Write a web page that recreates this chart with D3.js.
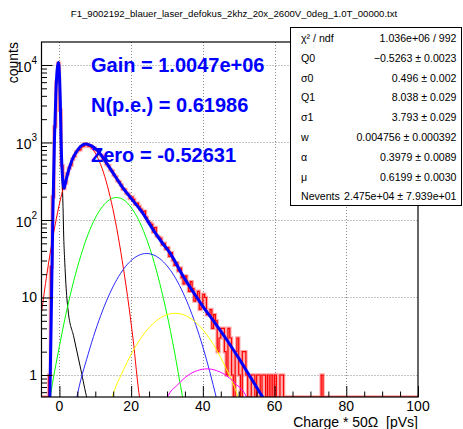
<!DOCTYPE html>
<html>
<head>
    <meta charset="utf-8">
    <title>Charge spectrum fit</title>
    <script type="text/javascript" src="https://cdn.jsdelivr.net/npm/d3@7"></script>
    <style>
        body { margin: 0; background: #fff; }
        text { font-family: "Liberation Sans", Arial, Helvetica, sans-serif; white-space: pre; }
    </style>
</head>

<body>

<script type="text/javascript">
    var width = 463,
        height = 429,
        frame = {left: 41.5, right: 418, top: 42, bottom: 397};

    var titleText = "F1_9002192_blauer_laser_defokus_2khz_20x_2600V_0deg_1.0T_00000.txt";

    // histogram: first bin edge, bin width, counts per bin
    var binStart = -5,
        binWidth = 0.5;
    var counts = [
        0, 0, 0, 0, 1, 25, 200, 1600, 6000, 10500,
        2600, 500, 255, 300, 395, 470, 510, 610, 665, 760,
        790, 805, 880, 900, 965, 940, 890, 900, 850, 845,
        800, 780, 700, 680, 605, 575, 520, 500, 445, 430,
        380, 362, 320, 310, 282, 250, 248, 222, 215, 190,
        198, 184, 160, 165, 150, 138, 128, 130, 108, 96,
        92, 88, 70, 80, 62, 60, 58, 48, 50, 42,
        44, 34, 38, 30, 26, 28, 22, 24, 18, 15,
        19, 15, 12, 16, 13, 9, 10, 12, 7, 8,
        11, 10, 6, 6, 7, 4, 6, 5, 2, 3,
        4, 4, 2, 1, 4, 3, 1, 0, 2, 3,
        1, 0, 2, 2, 1, 0, 0, 1, 1, 0,
        1, 1, 0, 1, 1, 0, 1, 0, 1, 0,
        1, 0, 0, 1, 1, 0, 0, 0, 0, 0,
        0, 0, 0, 0, 0, 0, 0, 0, 0, 0,
        0, 0, 0, 0, 0, 0, 1
    ];

    // fit curves: [charge, counts]
    var totalFit = [[-2.7, 0.4], [-2.2, 10], [-1.8, 139], [-1.4, 1040], [-1.0, 4180], [-0.65, 8500],
        [-0.3, 10800], [0, 7500], [0.25, 3300], [0.47, 1000], [0.7, 480], [0.95, 320], [1.23, 256],
        [1.6, 290], [2.0, 350], [2.6, 442], [3.5, 590], [4.5, 724], [5.8, 880], [7.3, 955],
        [8.8, 910], [10.5, 800], [12, 650], [13.8, 488], [15.5, 370], [17.2, 280], [20, 190],
        [23.1, 125], [26.2, 74], [28.5, 52], [30.9, 37], [34.6, 18.5], [40, 7.7], [43.5, 4.6],
        [46.7, 2.83], [50, 1.65], [53.2, 0.95], [56.9, 0.5], [58, 0.42]];
    var pedestalFit = [[-2.7, 0.4], [-2.2, 10], [-1.8, 139], [-1.4, 1040], [-1.0, 4180], [-0.65, 8500],
        [-0.3, 10800], [0, 7500], [0.25, 3500], [0.47, 1000], [0.75, 350], [1.0, 150], [1.2, 60],
        [1.5, 28], [1.8, 15], [2.4, 6.9], [4, 3.1], [6, 1.16], [7.7, 0.5], [8.2, 0.42]];
    var pe1Fit = [[-5, 6.4], [-3.5, 20], [-2, 54], [-0.5, 126], [1, 252], [2.5, 435], [4, 649],
        [5.5, 835], [7.3, 930], [8.8, 863], [10, 731], [11.5, 520], [13, 319], [14.5, 169],
        [16, 77], [17.5, 30], [19, 10.3], [20.5, 3.0], [22.4, 0.5], [22.8, 0.4]];
    var pe2Fit = [[-2.9, 0.4], [-2.6, 0.5], [0, 2.35], [2, 6.7], [4, 16.4], [6, 35], [8, 65.6],
        [10, 106], [12, 149], [14, 183], [15.9, 195], [18, 181], [20, 145], [22, 102], [24, 62],
        [26, 33], [28, 15.1], [30, 6.05], [32, 2.1], [34.4, 0.5], [34.8, 0.4]];
    var pe3Fit = [[4.4, 0.4], [4.8, 0.5], [8, 1.85], [12, 6.7], [16, 17], [20, 30], [24.3, 37],
        [28, 31.7], [32, 19], [36, 7.9], [40, 2.3], [43.8, 0.5], [44.3, 0.4]];
    var pe4Fit = [[14, 0.4], [14.6, 0.5], [18, 1.2], [22, 2.67], [26, 4.55], [29, 5.74], [32.25, 6.25],
        [35.5, 5.74], [38, 4.78], [42, 2.89], [46, 1.35], [49.9, 0.5], [50.5, 0.4]];
    var pe5Fit = [[29.3, 0.4], [30, 0.5], [33, 0.75], [36, 1.0], [38.5, 1.14], [41.15, 1.2],
        [43.8, 1.14], [46, 1.02], [49, 0.78], [52.3, 0.5], [53, 0.4]];

    var xTicks = [0, 20, 40, 60, 80, 100];
    var yTicks = [1, 10, 100, 1000, 10000];
    var yTickLabels = [["1", ""], ["10", ""], ["10", "2"], ["10", "3"], ["10", "4"]];

    var statNames = ["\u03c7\u00b2 / ndf", "Q0", "\u03c30", "Q1", "\u03c31", "w", "\u03b1", "\u03bc", "Nevents"];
    var statValues = ["1.036e+06 / 992", "\u22120.5263 \u00b1 0.0023", "0.496 \u00b1 0.002",
        "8.038 \u00b1 0.029", "3.793 \u00b1 0.029", "0.004756 \u00b1 0.000392",
        "0.3979 \u00b1 0.0089", "0.6199 \u00b1 0.0030", "2.475e+04 \u00b1 7.939e+01"];

    var fitLabels = ["Gain = 1.0047e+06", "N(p.e.) = 0.61986", "Zero = -0.52631"];

    var svg = d3.select("body").append("svg")
            .attr("width", width)
            .attr("height", height);

    var x = d3.scaleLinear().domain([-5, 100]).range([frame.left, frame.right]);
    var y = d3.scaleLog().domain([0.52, 19800]).range([frame.bottom, frame.top]);

    function yv(c) {
        return c > 0 ? y(c) : frame.bottom;
    }

    svg.append("defs").append("clipPath").attr("id", "plot-clip")
        .append("rect")
        .attr("x", frame.left).attr("y", frame.top)
        .attr("width", frame.right - frame.left)
        .attr("height", frame.bottom - frame.top);

    function renderGrid() {
        var g = svg.append("g").attr("class", "grid")
            .attr("stroke", "#8a8a8a").attr("stroke-dasharray", "1,2").attr("fill", "none");
        g.selectAll("line.gx").data(xTicks.slice(0, -1)).enter().append("line")
            .attr("x1", function(d) { return Math.round(x(d)) + 0.5; })
            .attr("x2", function(d) { return Math.round(x(d)) + 0.5; })
            .attr("y1", frame.top).attr("y2", frame.bottom);
        g.selectAll("line.gy").data(yTicks).enter().append("line")
            .attr("y1", function(d) { return Math.round(y(d)) + 0.5; })
            .attr("y2", function(d) { return Math.round(y(d)) + 0.5; })
            .attr("x1", frame.left).attr("x2", frame.right);
    }

    function renderHistogram() {
        var pts = counts.map(function(c, i) { return [binStart + i * binWidth, c]; });
        pts.push([binStart + counts.length * binWidth, 0]);
        pts.push([100, 0]);
        var line = d3.line()
            .x(function(d) { return x(d[0]); })
            .y(function(d) { return yv(d[1]); })
            .curve(d3.curveStepAfter);
        var g = svg.append("g").attr("clip-path", "url(#plot-clip)");
        g.append("path").attr("d", line(pts))
            .attr("fill", "none").attr("stroke", "#ff0000").attr("stroke-opacity", 0.35)
            .attr("stroke-width", 3.5);
        g.append("path").attr("d", line(pts))
            .attr("fill", "none").attr("stroke", "#ff0000").attr("stroke-width", 1.2);
    }

    function renderCurve(points, colour, w) {
        var line = d3.line()
            .x(function(d) { return x(d[0]); })
            .y(function(d) { return y(d[1]); })
            .curve(d3.curveMonotoneX);
        svg.append("path")
            .attr("clip-path", "url(#plot-clip)")
            .attr("d", line(points))
            .attr("fill", "none")
            .attr("stroke", colour)
            .attr("stroke-width", w);
    }

    function renderXAxis() {
        var axis = d3.axisBottom(x).tickValues(d3.range(0, 101, 5)).tickSize(0).tickFormat("");
        var g = svg.append("g").attr("transform", "translate(0," + frame.bottom + ")").call(axis);
        g.select(".domain").remove();
        g.selectAll(".tick line")
            .attr("y1", 0)
            .attr("y2", function(d) { return d % 20 === 0 ? -11 : -5.5; })
            .attr("stroke", "#000");

        svg.selectAll("text.xlab").data(xTicks).enter().append("text")
            .attr("class", "xlab")
            .attr("x", function(d) { return x(d); })
            .attr("y", 410.5)
            .attr("text-anchor", "middle")
            .attr("font-size", 14)
            .text(function(d) { return d; });

        svg.append("text")
            .attr("x", frame.right).attr("y", 427)
            .attr("text-anchor", "end")
            .attr("font-size", 14)
            .text("Charge * 50\u03a9  [pVs]");
    }

    function renderYAxis() {
        var minor = [];
        [0.1, 1, 10, 100, 1000, 10000].forEach(function(dec) {
            for (var k = 1; k < 10; k++) {
                var v = dec * k;
                if (v >= 0.52 && v <= 19800) minor.push(v);
            }
        });
        var axis = d3.axisLeft(y).tickValues(minor).tickSize(0).tickFormat("");
        var g = svg.append("g").attr("transform", "translate(" + frame.left + ",0)").call(axis);
        g.select(".domain").remove();
        g.selectAll(".tick line")
            .attr("x1", 0)
            .attr("x2", function(d) { return yTicks.indexOf(d) >= 0 ? 11 : 5.5; })
            .attr("stroke", "#000");

        var labs = svg.selectAll("text.ylab").data(yTicks).enter().append("text")
            .attr("class", "ylab")
            .attr("x", 37)
            .attr("y", function(d) { return y(d) + 5; })
            .attr("text-anchor", "end")
            .attr("font-size", 14);
        labs.each(function(d, i) {
            var t = d3.select(this);
            var lab = yTickLabels[i];
            if (lab[1] === "") {
                t.text(lab[0]);
            } else {
                t.attr("y", y(d) + 7);
                t.append("tspan").text(lab[0]);
                t.append("tspan").attr("dy", -8).attr("font-size", 10).text(lab[1]);
            }
        });

        svg.append("text")
            .attr("transform", "translate(18," + frame.top + ") rotate(-90)")
            .attr("text-anchor", "end")
            .attr("font-size", 14)
            .text("counts");
    }

    function renderFrame() {
        svg.append("rect")
            .attr("x", frame.left).attr("y", frame.top)
            .attr("width", frame.right - frame.left)
            .attr("height", frame.bottom - frame.top)
            .attr("fill", "none").attr("stroke", "#000").attr("stroke-width", 1.2);
    }

    function renderLabels() {
        svg.append("text")
            .attr("x", 234).attr("y", 17)
            .attr("text-anchor", "middle")
            .attr("font-size", 9.6)
            .text(titleText);

        var ys = [72.3, 111.7, 161.7];
        svg.selectAll("text.fitlab").data(fitLabels).enter().append("text")
            .attr("class", "fitlab")
            .attr("x", 91)
            .attr("y", function(d, i) { return ys[i]; })
            .attr("font-size", 20)
            .attr("font-weight", "bold")
            .attr("fill", "#0000ff")
            .text(function(d) { return d; });
    }

    function renderStats() {
        var box = {x: 290, y: 27, w: 171, h: 178};
        svg.append("rect")
            .attr("x", box.x + 0.5).attr("y", box.y + 0.5)
            .attr("width", box.w).attr("height", box.h)
            .attr("fill", "#fff").attr("stroke", "#000");
        var rowH = 19.8;
        statNames.forEach(function(name, i) {
            svg.append("text")
                .attr("x", 301).attr("y", 42 + i * rowH)
                .attr("font-size", 10.6)
                .text(name);
            svg.append("text")
                .attr("x", 456.5).attr("y", 42 + i * rowH)
                .attr("text-anchor", "end")
                .attr("font-size", 10.6)
                .text(statValues[i]);
        });
    }

    renderGrid();
    renderHistogram();
    renderCurve(pedestalFit, "#000000", 1);
    renderCurve(pe1Fit, "#ff0000", 1);
    renderCurve(pe2Fit, "#00ff00", 1);
    renderCurve(pe3Fit, "#2a2aff", 1);
    renderCurve(pe4Fit, "#ffff00", 1);
    renderCurve(pe5Fit, "#ff00ff", 1);
    renderCurve(totalFit, "#0000ff", 3);
    renderXAxis();
    renderYAxis();
    renderFrame();
    renderLabels();
    renderStats();
</script>

</body>

</html>
